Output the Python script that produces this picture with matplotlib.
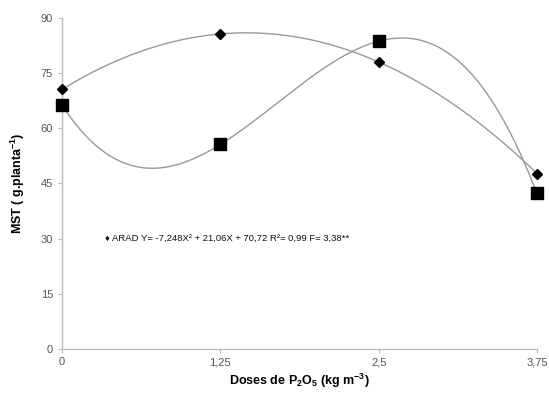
import numpy as np
import matplotlib
matplotlib.use("Agg")
import matplotlib.pyplot as plt

plt.rcParams['font.family'] = ['Liberation Sans', 'DejaVu Sans']
plt.rcParams['mathtext.fontset'] = 'custom'
plt.rcParams['mathtext.rm'] = 'Liberation Sans'
plt.rcParams['mathtext.bf'] = 'Liberation Sans:bold'
plt.rcParams['mathtext.default'] = 'regular'

doses = [0, 1.25, 2.5, 3.75]
dose_labels = ["0", "1,25", "2,5", "3,75"]
arad = [70.6, 85.6, 78.1, 47.7]
serie2 = [66.3, 55.6, 83.7, 42.3]
yticks = [0, 15, 30, 45, 60, 75, 90]

fig = plt.figure(figsize=(5.49, 4.09), dpi=100)
ax = fig.add_axes([0.113, 0.147, 0.865, 0.809])

xs = np.linspace(0, 3.75, 300)
c2 = np.polyfit(doses, arad, 2)
c3 = np.polyfit(doses, serie2, 3)
ax.plot(xs, np.polyval(c2, xs), color='#999999', lw=1.0, zorder=2, clip_on=False)
ax.plot(xs, np.polyval(c3, xs), color='#999999', lw=1.0, zorder=2, clip_on=False)

ax.plot(doses, arad, linestyle='none', marker='D', ms=5.5, color='black', zorder=3, clip_on=False)
ax.plot(doses, serie2, linestyle='none', marker='s', ms=8.5, color='black', zorder=3, clip_on=False)

ax.set_xlim(0, 3.75)
ax.set_ylim(0, 90)
ax.set_xticks(doses)
ax.set_xticklabels(dose_labels)
ax.set_yticks(yticks)

for s in ['top', 'right']:
    ax.spines[s].set_visible(False)
for s in ['left', 'bottom']:
    ax.spines[s].set_color('#bbbbbb')
    ax.spines[s].set_linewidth(1.0)
ax.tick_params(axis='both', colors='#bbbbbb', labelcolor='#555555', labelsize=8, length=3, width=0.8)
ax.tick_params(axis='x', pad=3)

ax.set_xlabel("Doses de P$_{2}$O$_{5}$ (kg m$^{-3}$)", fontsize=9, fontweight='bold', labelpad=3)
ax.set_ylabel("MST ( g.planta$^{-1}$)", fontsize=9, fontweight='bold', labelpad=10)

ax.text(0.34, 30, "\u2666 ARAD Y= -7,248X\u00b2 + 21,06X + 70,72 R\u00b2= 0,99 F= 3,38**",
        fontsize=6.8, va='center', ha='left', color='#111111')

fig.savefig("out.png", dpi=100)
